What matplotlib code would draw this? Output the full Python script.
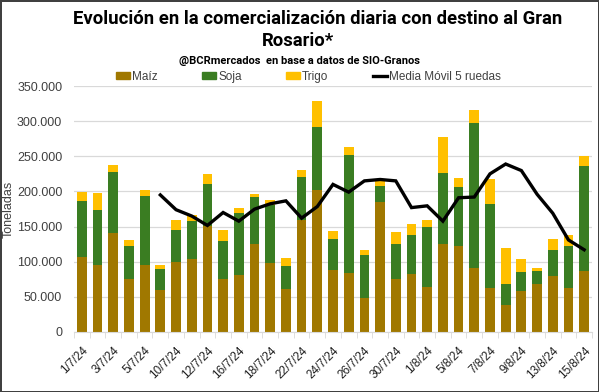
import matplotlib
matplotlib.use("Agg")
import matplotlib.pyplot as plt
from matplotlib.patches import Patch
from matplotlib.lines import Line2D
from matplotlib.ticker import FuncFormatter, FixedLocator
import numpy as np

fechas = ["1/7/24", "2/7/24", "3/7/24", "4/7/24", "5/7/24", "8/7/24", "10/7/24", "11/7/24",
          "12/7/24", "15/7/24", "16/7/24", "17/7/24", "18/7/24", "19/7/24", "22/7/24", "23/7/24",
          "24/7/24", "25/7/24", "26/7/24", "29/7/24", "30/7/24", "31/7/24", "1/8/24", "2/8/24",
          "5/8/24", "6/8/24", "7/8/24", "8/8/24", "9/8/24", "12/8/24", "13/8/24", "14/8/24", "15/8/24"]

maiz = [106000, 95000, 140700, 75000, 95000, 60000, 100000, 104000,
        151500, 75000, 80500, 125000, 98000, 61600, 159000, 202000,
        88000, 84000, 49000, 185000, 76000, 83000, 64500, 124600,
        123000, 91500, 63000, 38400, 57800, 67800, 79000, 63000, 87000]
soja = [81000, 79000, 86300, 46700, 97800, 29500, 45000, 54000,
        59300, 53800, 88500, 66800, 83000, 32700, 61000, 90000,
        45000, 168000, 61000, 23000, 48600, 55000, 84500, 101900,
        84000, 206500, 118500, 30300, 28200, 19200, 37600, 58800, 148500]
trigo = [12000, 23500, 11000, 9300, 9200, 6200, 15000, 9000,
         13700, 15700, 7700, 4700, 7000, 10700, 11000, 37000,
         11000, 11000, 7000, 7600, 17400, 16000, 11000, 51200,
         12000, 17600, 35500, 50700, 18000, 3500, 16400, 16200, 15500]
# media movil 5 ruedas (arranca en 8/7/24)
media_movil = [None, None, None, None, None, 195000, 174000, 165000,
               151600, 170000, 157700, 174800, 182400, 186600, 162000, 178500,
               210000, 199000, 215000, 217000, 215000, 177000, 179500, 157700,
               191000, 192000, 225000, 239000, 229700, 196000, 169000, 131000, 117000]

C_MAIZ = "#A07800"
C_SOJA = "#3A7D22"
C_TRIGO = "#FFC000"

plt.rcParams["font.family"] = ["Liberation Sans", "DejaVu Sans"]

fig = plt.figure(figsize=(5.99, 3.92), dpi=100)
fig.patch.set_edgecolor("#404040")
fig.patch.set_linewidth(2)
ax = fig.add_axes([74 / 599, 1 - 332 / 392, (592 - 74) / 599, (332 - 86) / 392])

x = np.arange(len(fechas))
w = 0.62
m = np.array(maiz)
s = np.array(soja)
t = np.array(trigo)
ax.bar(x, m, w, color=C_MAIZ, zorder=2)
ax.bar(x, s, w, bottom=m, color=C_SOJA, zorder=2)
ax.bar(x, t, w, bottom=m + s, color=C_TRIGO, zorder=2)
mm = np.array([np.nan if v is None else v for v in media_movil], dtype=float)
ax.plot(x, mm, color="black", lw=2.4, zorder=3, solid_joinstyle="miter")

ax.set_xlim(-0.5, len(fechas) - 0.5)
ax.set_ylim(0, 350000)
ax.set_yticks(np.arange(0, 350001, 50000))
ax.yaxis.set_major_formatter(FuncFormatter(lambda v, _: f"{int(v):,}".replace(",", ".")))
ax.grid(axis="y", color="#D9D9D9", lw=0.9, zorder=0)
ax.set_axisbelow(True)
for sp in ["top", "right", "left"]:
    ax.spines[sp].set_visible(False)
ax.spines["bottom"].set_color("#D9D9D9")
ax.tick_params(axis="y", length=0, labelsize=9, colors="#404040", pad=8.5)

ax.set_xticks(x[::2])
ax.set_xticklabels(fechas[::2], rotation=45, ha="right", rotation_mode="anchor", fontsize=8.5)
ax.tick_params(axis="x", which="major", length=0, pad=9, colors="#202020")
ax.xaxis.set_minor_locator(FixedLocator(np.arange(-0.5, len(fechas), 1)))
ax.tick_params(axis="x", which="minor", length=4, color="#D9D9D9")
fig.text(9 / 599, 1 - 209 / 392, "Toneladas", rotation=90, ha="center", va="center",
         fontsize=9, color="#404040")

fam = "Roboto"
fig.text(73 / 599, 1 - 19.5 / 392, "Evolución en la comercialización diaria con destino al Gran",
         ha="left", va="center", fontsize=13.3, fontweight="bold", family=fam)
fig.text(262 / 599, 1 - 41 / 392, "Rosario*", ha="left", va="center", fontsize=13.3,
         fontweight="bold", family=fam)
fig.text(0.5, 1 - 60.5 / 392, "@BCRmercados  en base a datos de SIO-Granos", ha="center",
         va="center", fontsize=8, fontweight="bold", family=fam)

handles = [Patch(color=C_MAIZ), Patch(color=C_SOJA), Patch(color=C_TRIGO),
           Line2D([], [], color="black", lw=2.4)]
labels = ["Maíz", "Soja", "Trigo", "Media Móvil 5 ruedas"]
fig.legend(handles, labels, loc="center left", bbox_to_anchor=(116 / 599, 1 - 76.7 / 392),
           ncol=4, frameon=False, fontsize=8.5, handlelength=1.2, handleheight=0.56,
           handletextpad=0.17, columnspacing=3.75, borderpad=0, borderaxespad=0,
           labelcolor="#404040")

fig.savefig("out.png", dpi=100)
